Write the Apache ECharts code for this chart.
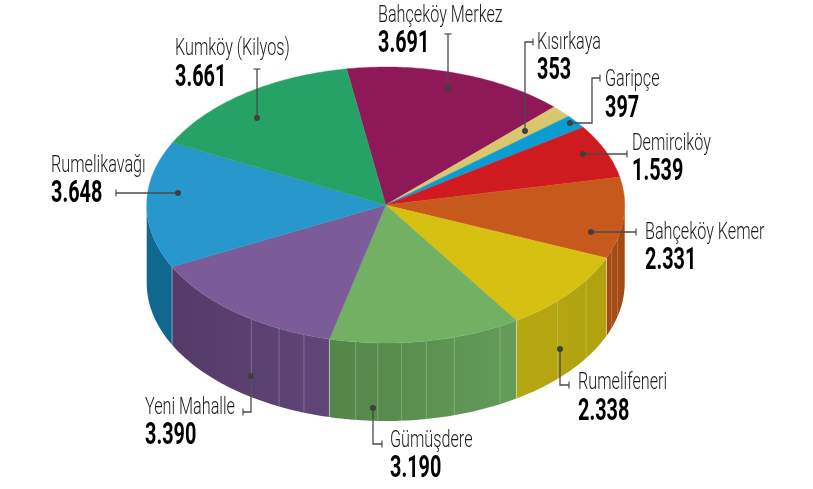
<!DOCTYPE html>
<html><head><meta charset="utf-8">
<style>html,body{margin:0;padding:0;background:#fff}#c{width:813px;height:489px}</style>
<script src="https://cdn.jsdelivr.net/npm/echarts@6/dist/echarts.min.js"></script>
</head><body><div id="c"></div>
<script>
const names = ['Bahçeköy Merkez','Kısırkaya','Garipçe','Demirciköy','Bahçeköy Kemer','Rumelifeneri','Gümüşdere','Yeni Mahalle','Rumelikavağı','Kumköy (Kilyos)'];
const values = [3691,353,397,1539,2331,2338,3190,3390,3648,3661];
const topColors = ['#8E1858','#D9C76E','#0B9CD3','#CF1B20','#C8591D','#D6C011','#72B064','#7B5C99','#2897CB','#27A266'];
const sideLeft = ['#000','#000','#000','#000','#A84C16','#B7A812','#538548','#543B69','#11688F','#000'];
const sideRight = ['#000','#000','#000','#000','#A04A14','#B0A210','#649C5A','#5F4678','#11688F','#000'];
const facetAngles = [104,109,123,134,151.4,163.3,170.2,176.2,181.9,187.2,200,206.5,214.2];

// layout of the pie (projected disc)
const CX=385.7, CY=205, RX=239, RY=138, DEPTH=78, START=-9.4;
const total = values.reduce((a,b)=>a+b,0);
const starts = []; { let acc=START; values.forEach(v=>{starts.push(acc); acc+=v/total*360;}); }
const pt=(deg,dy=0)=>{const r=deg*Math.PI/180;return [CX+RX*Math.sin(r),CY-RY*Math.cos(r)+dy];};
const arc=(a,b,dy=0)=>{const n=Math.max(2,Math.ceil(Math.abs(b-a)));const o=[];for(let i=0;i<=n;i++)o.push(pt(a+(b-a)*i/n,dy));return o;};

// leader and text placement: name/value anchor, baselines and leader path
const layout = [
 {tx:378,nb:22,vb:52, path:[[448,89],[448,34]], cap:'h'},
 {tx:537,nb:49,vb:79, path:[[525,131],[525,42],[533,42]], cap:'v'},
 {tx:605,nb:86,vb:117,path:[[570,123],[592,123],[592,78],[600,78]], cap:'v'},
 {tx:632,nb:150,vb:180,path:[[583,154],[627,154]], cap:'v'},
 {tx:645,nb:239,vb:269,path:[[591,232],[636,232]], cap:'v'},
 {tx:578,nb:389,vb:420,path:[[560,349],[560,385],[569,385]], cap:'v'},
 {tx:390,nb:447,vb:477,path:[[373,408],[373,444],[382,444]], cap:'v'},
 {tx:145,nb:414,vb:444,path:[[251,376],[251,412],[243,412]], cap:'v'},
 {tx:51,nb:172,vb:202,path:[[178,193],[116,193]], cap:'v'},
 {tx:175,nb:55,vb:86,path:[[257,118],[257,69]], cap:'h'}
];
const fmt=v=>String(v).replace(/\B(?=(\d{3})+$)/g,'.');
const tableData = names.map((n,i)=>[i,values[i]]);

function sideItem(params,api){
  const i=api.value(0); const a=starts[i], b=a+api.value(1)/total*360;
  const s=Math.max(a,90), e=Math.min(b,270);
  if(e<=s) return {type:'group',children:[]};
  const top=arc(s,e), bot=arc(s,e,DEPTH).reverse();
  const xs=top.map(p=>p[0]);
  const children=[{type:'polygon',shape:{points:top.concat(bot)},silent:true,
    style:{fill:{type:'linear',x:Math.min(...xs),y:0,x2:Math.max(...xs),y2:0,global:true,
      colorStops:[{offset:0,color:sideLeft[i]},{offset:1,color:sideRight[i]}]}}}];
  facetAngles.filter(f=>f>s&&f<e).forEach(f=>{
    const p=pt(f),q=pt(f,DEPTH);
    children.push({type:'line',shape:{x1:p[0],y1:p[1],x2:q[0],y2:q[1]},silent:true,style:{stroke:'rgba(255,255,255,0.22)',lineWidth:1}});
  });
  if(s>90){const p=pt(s),q=pt(s,DEPTH);children.push({type:'line',shape:{x1:p[0],y1:p[1],x2:q[0],y2:q[1]},silent:true,style:{stroke:'rgba(255,255,255,0.4)',lineWidth:1}});}
  return {type:'group',children};
}
function topItem(params,api){
  const i=api.value(0); const a=starts[i], b=a+api.value(1)/total*360;
  return {type:'polygon',shape:{points:[[CX,CY]].concat(arc(a,b))},style:{fill:topColors[i],stroke:topColors[i],lineWidth:0.4}};
}
function labelItem(params,api){
  const i=api.value(0), L=layout[i], P=L.path, e=P[P.length-1], c=[];
  c.push({type:'polyline',shape:{points:P},silent:true,style:{fill:'none',stroke:'#4a4a4a',lineWidth:1.3}});
  if(L.cap==='h') c.push({type:'line',shape:{x1:e[0]-3.5,y1:e[1],x2:e[0]+3.5,y2:e[1]},silent:true,style:{stroke:'#4a4a4a',lineWidth:1.2}});
  else c.push({type:'line',shape:{x1:e[0],y1:e[1]-3.5,x2:e[0],y2:e[1]+3.5},silent:true,style:{stroke:'#4a4a4a',lineWidth:1.2}});
  c.push({type:'circle',shape:{cx:P[0][0],cy:P[0][1],r:3},silent:true,style:{fill:'#3f3f3f'}});
  c.push({type:'text',x:L.tx,y:L.nb-6.5,scaleX:0.675,silent:true,style:{text:names[i],fontFamily:'Roboto',fontWeight:300,fontSize:24,fill:'#1a1a1a',align:'left',verticalAlign:'middle'}});
  c.push({type:'text',x:L.tx,y:L.vb-7.5,scaleX:0.64,silent:true,style:{text:fmt(api.value(1)),fontFamily:'Roboto',fontWeight:700,fontSize:31,fill:'#000',align:'left',verticalAlign:'middle'}});
  return {type:'group',children:c};
}
const chart=echarts.init(document.getElementById('c'),null,{renderer:'canvas'});
const base={type:'custom',coordinateSystem:'none',data:tableData,animation:false,silent:true,clip:false};
chart.setOption({backgroundColor:'#fff',animation:false,series:[
  Object.assign({},base,{name:'side',renderItem:sideItem,z:1}),
  Object.assign({},base,{name:'top',renderItem:topItem,z:2}),
  Object.assign({},base,{name:'labels',renderItem:labelItem,z:3})
]});
</script></body></html>
